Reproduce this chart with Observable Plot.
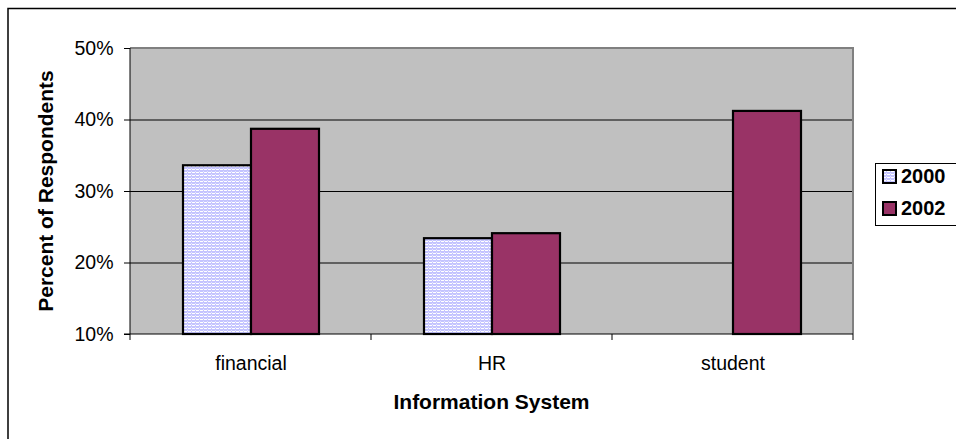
<!DOCTYPE html>
<html>
<head>
<meta charset="utf-8">
<script src="https://cdn.jsdelivr.net/npm/d3@7"></script>
<script src="https://cdn.jsdelivr.net/npm/@observablehq/plot@0.6"></script>
<style>
  html, body { margin: 0; padding: 0; background: white; }
  #wrap { position: relative; width: 956px; height: 439px; overflow: hidden; font-family: "Liberation Sans", Arial, sans-serif; }
  #legend { position: absolute; left: 875px; top: 163px; width: 90px; height: 63px; border: 1px solid black; background: white; box-sizing: border-box; }
  .item { position: absolute; left: 7px; display: flex; align-items: center; font-weight: bold; font-size: 20px; color: black; }
</style>
</head>
<body>
<div id="wrap"></div>
<script>
// ---- data ----
const categories = ["financial", "HR", "student"];
const years = ["2000", "2002"];
const values2000 = [0.336, 0.234, null];
const values2002 = [0.387, 0.241, 0.412];
const yTicks = [0.1, 0.2, 0.3, 0.4, 0.5];
const yTitle = "Percent of Respondents";
const xTitle = "Information System";

(function () {
const yMin = yTicks[0];
const yMax = yTicks[yTicks.length - 1];
const pct = d3.format(".0%");

const rows = [];
categories.forEach((c, i) => {
  if (values2000[i] != null) rows.push({category: c, year: years[0], value: values2000[i]});
  if (values2002[i] != null) rows.push({category: c, year: years[1], value: values2002[i]});
});

const fontFamily = '"Liberation Sans", Arial, sans-serif';

const chart = Plot.plot({
  width: 956,
  height: 439,
  marginLeft: 130,
  marginRight: 103,
  marginTop: 48,
  marginBottom: 105,
  style: {fontFamily, fontSize: "19.5px", color: "black", background: "white", overflow: "visible"},
  fx: {domain: categories, padding: 0, label: null},
  x: {domain: years, paddingInner: 0, paddingOuter: 0.75, axis: null},
  y: {domain: [yMin, yMax], label: null},
  marks: [
    Plot.gridY(yTicks.slice(1, -1), {stroke: "black", strokeOpacity: 1, strokeWidth: 1}),
    Plot.barY(rows.filter(d => d.year === years[0]), {fx: "category", x: "year", y1: yMin, y2: "value", fill: "url(#pat2000)", stroke: "black", strokeWidth: 2.2}),
    Plot.barY(rows.filter(d => d.year === years[1]), {fx: "category", x: "year", y1: yMin, y2: "value", fill: "#993366", stroke: "black", strokeWidth: 2.2}),
    Plot.axisY(yTicks, {tickFormat: pct, tickSize: 6, tickPadding: 11, stroke: "black", label: null, fontSize: 19.5}),
    Plot.axisFx({anchor: "bottom", tickSize: 0, tickPadding: 22, label: null, fontSize: 19.5})
  ]
});

const svg = d3.select(chart);
svg.insert("defs", ":first-child").html(`
  <pattern id="pat2000" patternUnits="userSpaceOnUse" width="4" height="3">
    <rect width="4" height="3" fill="#c4c4ff"/>
    <rect x="0" y="1" width="3" height="1" fill="#ffffff"/>
    <rect x="3" y="0" width="1" height="1" fill="#e4e4ff"/>
  </pattern>`);

const fx = chart.scale("fx");
const y = chart.scale("y");
const xLeft = fx.apply(categories[0]);
const xRight = fx.apply(categories[categories.length - 1]) + fx.bandwidth;
const yTop = y.apply(yMax);
const yBottom = y.apply(yMin);

// single grey plot-area background beneath all marks
svg.insert("rect", "g")
  .attr("x", xLeft).attr("y", yTop).attr("width", xRight - xLeft).attr("height", yBottom - yTop)
  .attr("fill", "#c0c0c0");

const g = svg.append("g");
g.append("line").attr("x1", xLeft).attr("x2", xRight + 1).attr("y1", yTop).attr("y2", yTop).attr("stroke", "#808080").attr("stroke-width", 2);
g.append("line").attr("x1", xRight).attr("x2", xRight).attr("y1", yTop).attr("y2", yBottom).attr("stroke", "#808080").attr("stroke-width", 2);
g.append("line").attr("x1", xLeft).attr("x2", xLeft).attr("y1", yTop).attr("y2", yBottom).attr("stroke", "black").attr("stroke-width", 1);
g.append("line").attr("x1", xLeft - 6).attr("x2", xRight).attr("y1", yBottom).attr("y2", yBottom).attr("stroke", "black").attr("stroke-width", 1);
const bounds = categories.map(c => fx.apply(c)).concat([xRight]);
bounds.forEach(b => g.append("line").attr("x1", b).attr("x2", b).attr("y1", yBottom).attr("y2", yBottom + 6).attr("stroke", "black"));
g.append("text").text(yTitle)
  .attr("transform", `translate(53,${(yTop + yBottom) / 2}) rotate(-90)`)
  .attr("text-anchor", "middle").attr("font-weight", "bold").attr("font-size", 21).attr("fill", "black").attr("font-family", fontFamily);
g.append("text").text(xTitle)
  .attr("x", (xLeft + xRight) / 2).attr("y", 409)
  .attr("text-anchor", "middle").attr("font-weight", "bold").attr("font-size", 21).attr("fill", "black").attr("font-family", fontFamily);
g.append("path").attr("d", `M8,445 V8.5 H960`).attr("fill", "none").attr("stroke", "black").attr("stroke-width", 1.5);

const wrap = document.getElementById("wrap");
wrap.appendChild(chart);

const legend = document.createElement("div");
legend.id = "legend";
const swatchFills = ["url(#pat2000)", "#993366"];
years.forEach((yr, i) => {
  const item = document.createElement("div");
  item.className = "item";
  item.style.top = (i === 0 ? 1 : 33) + "px";
  item.innerHTML = `<svg viewBox="0 0 13 13" width="13" height="13" style="margin-right:5px;overflow:visible"><rect x="0" y="0" width="13" height="13" fill="${swatchFills[i]}" stroke="black" stroke-width="2"/></svg><span>${yr}</span>`;
  legend.appendChild(item);
});
wrap.appendChild(legend);
})();
</script>
</body>
</html>
